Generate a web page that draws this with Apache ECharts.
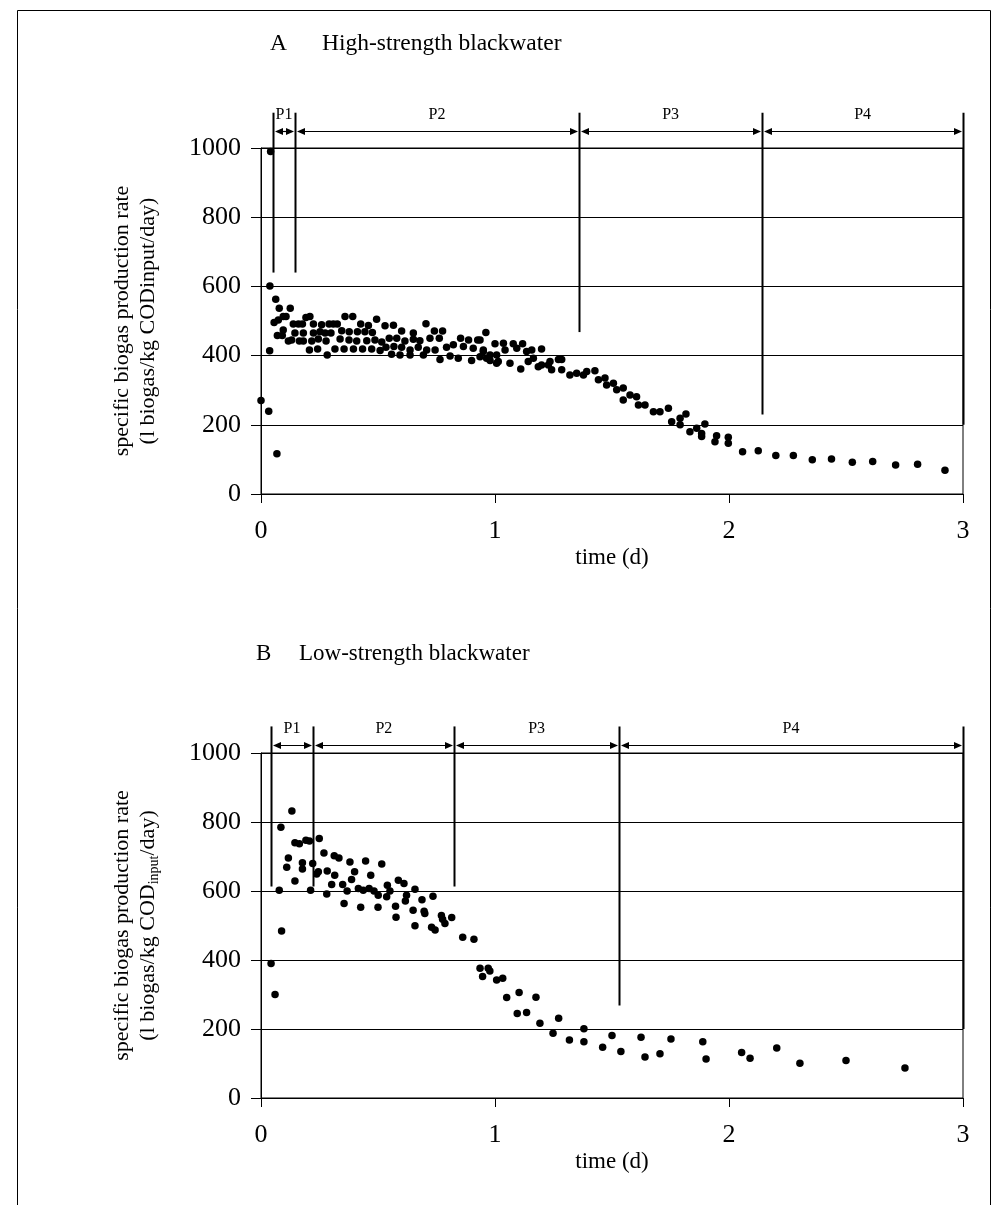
<!DOCTYPE html>
<html>
<head>
<meta charset="utf-8">
<script src="https://cdn.jsdelivr.net/npm/echarts@6/dist/echarts.min.js"></script>
<style>
  html, body { margin: 0; padding: 0; background: #fff; }
  #chart { width: 1006px; height: 1205px; }
</style>
</head>
<body>
<div id="chart"></div>
<script>
// Panel A: high-strength blackwater, [time (d), specific biogas rate]
const aPoints = [
  [0, 270], [0.033, 239], [0.037, 414], [0.038, 601], [0.041, 990], [0.068, 116],
  [0.056, 496], [0.063, 563], [0.070, 458], [0.074, 503], [0.078, 537], [0.091, 458],
  [0.095, 474], [0.095, 513], [0.107, 513], [0.117, 442], [0.125, 537], [0.131, 445],
  [0.138, 491], [0.145, 465], [0.160, 491], [0.164, 442], [0.177, 491], [0.181, 465],
  [0.181, 442], [0.192, 510], [0.207, 416], [0.209, 513], [0.217, 442], [0.224, 491],
  [0.224, 465], [0.242, 419], [0.245, 448], [0.252, 469], [0.259, 489], [0.274, 465],
  [0.278, 442], [0.283, 402], [0.291, 491], [0.299, 465], [0.309, 491], [0.316, 419],
  [0.326, 491], [0.338, 448], [0.345, 472], [0.355, 419], [0.359, 513], [0.376, 445],
  [0.377, 469], [0.392, 513], [0.395, 419], [0.409, 442], [0.412, 469], [0.426, 491],
  [0.434, 419], [0.444, 469], [0.452, 443], [0.459, 487], [0.473, 419], [0.476, 467],
  [0.487, 445], [0.494, 505], [0.509, 415], [0.516, 439], [0.530, 486], [0.534, 424],
  [0.548, 450], [0.558, 404], [0.566, 488], [0.568, 426], [0.580, 450], [0.594, 402],
  [0.601, 471], [0.601, 424], [0.615, 442], [0.637, 416], [0.637, 402], [0.651, 465],
  [0.651, 447], [0.672, 424], [0.679, 443], [0.694, 402], [0.705, 492], [0.708, 416],
  [0.722, 450], [0.741, 471], [0.744, 416], [0.762, 450], [0.765, 389], [0.776, 471],
  [0.793, 424], [0.808, 399], [0.822, 431], [0.843, 392], [0.853, 450], [0.865, 426],
  [0.887, 445], [0.900, 386], [0.907, 421], [0.926, 445], [0.936, 397], [0.950, 416],
  [0.979, 386], [1.007, 378], [0.936, 445], [0.950, 412], [0.961, 467], [0.964, 392],
  [0.979, 402], [1.000, 434], [1.007, 402], [1.014, 383], [1.036, 436], [1.043, 416],
  [1.064, 378], [1.078, 434], [1.093, 421], [1.110, 361], [1.118, 434], [1.135, 412],
  [1.142, 383], [1.157, 416], [1.164, 392], [1.185, 368], [1.199, 419], [1.199, 373],
  [1.228, 373], [1.235, 383], [1.242, 359], [1.271, 389], [1.285, 389], [1.285, 359],
  [1.320, 344], [1.349, 349], [1.378, 344], [1.392, 354], [1.427, 356], [1.442, 330],
  [1.470, 335], [1.477, 315], [1.506, 320], [1.520, 301], [1.548, 306], [1.548, 272],
  [1.577, 286], [1.605, 281], [1.613, 257], [1.641, 257], [1.677, 238], [1.705, 238],
  [1.741, 248], [1.755, 209], [1.791, 219], [1.791, 200], [1.816, 231], [1.833, 180],
  [1.862, 190], [1.883, 166], [1.883, 175], [1.897, 202], [1.940, 151], [1.947, 168],
  [1.997, 164], [1.997, 147], [2.058, 122], [2.125, 125], [2.200, 111], [2.275, 111],
  [2.356, 99], [2.438, 101], [2.527, 92], [2.614, 94], [2.712, 84], [2.806, 86],
  [2.923, 69]
];

// Panel B: low-strength blackwater
const bPoints = [
  [0.043, 390], [0.060, 300], [0.078, 602], [0.085, 785], [0.088, 484], [0.110, 669],
  [0.117, 696], [0.132, 832], [0.145, 740], [0.145, 629], [0.164, 737], [0.177, 682],
  [0.177, 664], [0.192, 747], [0.207, 745], [0.212, 602], [0.221, 680], [0.238, 649],
  [0.245, 656], [0.249, 752], [0.269, 710], [0.281, 591], [0.283, 658], [0.302, 619],
  [0.313, 702], [0.315, 646], [0.333, 696], [0.349, 619], [0.355, 564], [0.368, 600],
  [0.380, 684], [0.387, 633], [0.400, 656], [0.416, 607], [0.426, 553], [0.437, 602],
  [0.447, 687], [0.462, 607], [0.469, 646], [0.483, 600], [0.500, 553], [0.501, 588],
  [0.516, 678], [0.537, 583], [0.540, 617], [0.551, 600], [0.575, 556], [0.577, 524],
  [0.587, 631], [0.611, 622], [0.617, 571], [0.622, 588], [0.650, 544], [0.658, 605],
  [0.658, 499], [0.688, 575], [0.697, 541], [0.700, 535], [0.729, 495], [0.735, 585],
  [0.744, 487], [0.771, 529], [0.776, 518], [0.786, 506], [0.815, 523], [0.862, 466],
  [0.910, 460], [0.936, 376], [0.947, 352], [0.971, 376], [0.978, 368], [1.007, 342],
  [1.033, 347], [1.050, 291], [1.095, 245], [1.103, 306], [1.135, 248], [1.175, 292],
  [1.192, 217], [1.248, 188], [1.272, 231], [1.318, 168], [1.380, 201], [1.380, 163],
  [1.460, 147], [1.500, 181], [1.538, 135], [1.624, 176], [1.641, 119], [1.705, 128],
  [1.752, 171], [1.888, 163], [1.902, 113], [2.054, 132], [2.090, 115], [2.204, 145],
  [2.303, 101], [2.500, 109], [2.752, 87]
];

// Phase boundaries (d), the rate at which each boundary marker starts, and phase names
const aBounds = [0.051, 0.145, 1.359, 2.142, 3.0];
const aBoundBase = [640, 640, 468, 230, 200];
const bBounds = [0.041, 0.224, 0.826, 1.530, 3.0];
const bBoundBase = [613, 613, 613, 268, 200];
const phaseNames = ['P1', 'P2', 'P3', 'P4'];

const yTicks = ['0', '200', '400', '600', '800', '1000'];

const SERIF = '"Liberation Serif", "Times New Roman", serif';

const chart = echarts.init(document.getElementById('chart'), null, { renderer: 'canvas' });

function xAxisFor(idx) {
  return {
    gridIndex: idx, type: 'value', min: 0, max: 3, interval: 1,
    axisLine: { show: true, onZero: false, lineStyle: { color: '#000', width: 1 } },
    axisTick: { show: true, length: 9, lineStyle: { color: '#000' } },
    axisLabel: { color: '#000', fontFamily: SERIF, fontSize: 26, margin: 24 },
    splitLine: { show: false },
    name: 'time (d)', nameLocation: 'middle', nameGap: 52,
    nameTextStyle: { color: '#000', fontFamily: SERIF, fontSize: 23 }
  };
}

function yAxisFor(idx, name, rich) {
  return {
    gridIndex: idx, type: 'value', min: 0, max: 1000, interval: 200,
    axisLine: { show: true, lineStyle: { color: '#000', width: 1 } },
    axisTick: { show: true, length: 10, lineStyle: { color: '#000' } },
    axisLabel: {
      color: '#000', fontFamily: SERIF, fontSize: 26, margin: 20,
      formatter: v => yTicks[Math.round(v / 200)]
    },
    splitLine: { show: true, lineStyle: { color: '#000', width: 1 } },
    name: name, nameLocation: 'middle', nameRotate: 90, nameGap: 100,
    nameTextStyle: {
      color: '#000', fontFamily: SERIF, fontSize: 22, lineHeight: 26, align: 'center',
      rich: rich || {}
    }
  };
}

// Vertical boundary markers reaching above the plot
function boundarySeries(idx, bounds, base, topV) {
  return {
    type: 'custom', xAxisIndex: idx, yAxisIndex: idx, clip: false, silent: true, z: 5,
    data: bounds.map((b, i) => [b, base[i]]),
    renderItem: function (params, api) {
      const p0 = api.coord([api.value(0), api.value(1)]);
      const p1 = api.coord([api.value(0), topV]);
      return {
        type: 'line',
        shape: { x1: Math.round(p0[0]) + 0.5, y1: p0[1], x2: Math.round(p1[0]) + 0.5, y2: p1[1] },
        style: { stroke: '#000', lineWidth: 2 }
      };
    }
  };
}

// Double-headed arrows spanning each phase, with the phase name above
function phaseSeries(idx, bounds, arrowV, labelV) {
  return {
    type: 'custom', xAxisIndex: idx, yAxisIndex: idx, clip: false, silent: true, z: 6,
    data: phaseNames.map((n, i) => [bounds[i], bounds[i + 1]]),
    renderItem: function (params, api) {
      const a = api.coord([api.value(0), arrowV]);
      const b = api.coord([api.value(1), arrowV]);
      const c = api.coord([(api.value(0) + api.value(1)) / 2, labelV]);
      const x1 = Math.round(a[0]) + 2, x2 = Math.round(b[0]) - 1, y = Math.round(a[1]) + 0.5;
      const hl = 8, hw = 3.5;
      return {
        type: 'group',
        children: [
          { type: 'line', shape: { x1: x1 + 2, y1: y, x2: x2 - 2, y2: y }, style: { stroke: '#000', lineWidth: 1.2 } },
          { type: 'polygon', shape: { points: [[x1, y], [x1 + hl, y - hw], [x1 + hl, y + hw]] }, style: { fill: '#000' } },
          { type: 'polygon', shape: { points: [[x2, y], [x2 - hl, y - hw], [x2 - hl, y + hw]] }, style: { fill: '#000' } },
          {
            type: 'text', x: c[0], y: c[1],
            style: {
              text: phaseNames[params.dataIndex], font: '16px ' + SERIF, fill: '#000',
              align: 'center', verticalAlign: 'middle'
            }
          }
        ]
      };
    }
  };
}

function scatterSeries(idx, pts) {
  return {
    type: 'scatter', xAxisIndex: idx, yAxisIndex: idx, data: pts,
    symbol: 'circle', symbolSize: 7.5, itemStyle: { color: '#000', opacity: 1 }, z: 4, silent: true
  };
}

const option = {
  backgroundColor: '#fff',
  animation: false,
  grid: [
    { left: 261, top: 148, width: 702, height: 346, show: true, borderColor: '#000', borderWidth: 1, backgroundColor: 'transparent' },
    { left: 261, top: 753, width: 702, height: 345, show: true, borderColor: '#000', borderWidth: 1, backgroundColor: 'transparent' }
  ],
  xAxis: [xAxisFor(0), xAxisFor(1)],
  yAxis: [
    yAxisFor(0, 'specific biogas production rate\n(l biogas/kg CODinput/day)'),
    yAxisFor(1, 'specific biogas production rate\n(l biogas/kg COD{sub|input}/day)', {
      sub: { fontFamily: SERIF, fontSize: 14, color: '#000', verticalAlign: 'bottom', lineHeight: 20 }
    })
  ],
  series: [
    boundarySeries(0, aBounds, aBoundBase, 1102),
    phaseSeries(0, aBounds, 1048, 1096),
    scatterSeries(0, aPoints),
    boundarySeries(1, bBounds, bBoundBase, 1077),
    phaseSeries(1, bBounds, 1023, 1070),
    scatterSeries(1, bPoints)
  ],
  graphic: [
    { type: 'rect', shape: { x: 17.5, y: 10.5, width: 973, height: 1210 }, style: { fill: 'none', stroke: '#000', lineWidth: 1 }, silent: true },
    { type: 'text', left: 270, top: 32, style: { text: 'A', font: '23.5px ' + SERIF, fill: '#000' } },
    { type: 'text', left: 322, top: 32, style: { text: 'High-strength blackwater', font: '23.5px ' + SERIF, fill: '#000' } },
    { type: 'text', left: 256, top: 642, style: { text: 'B', font: '23px ' + SERIF, fill: '#000' } },
    { type: 'text', left: 299, top: 642, style: { text: 'Low-strength blackwater', font: '23px ' + SERIF, fill: '#000' } }
  ]
};

chart.setOption(option);
</script>
</body>
</html>
